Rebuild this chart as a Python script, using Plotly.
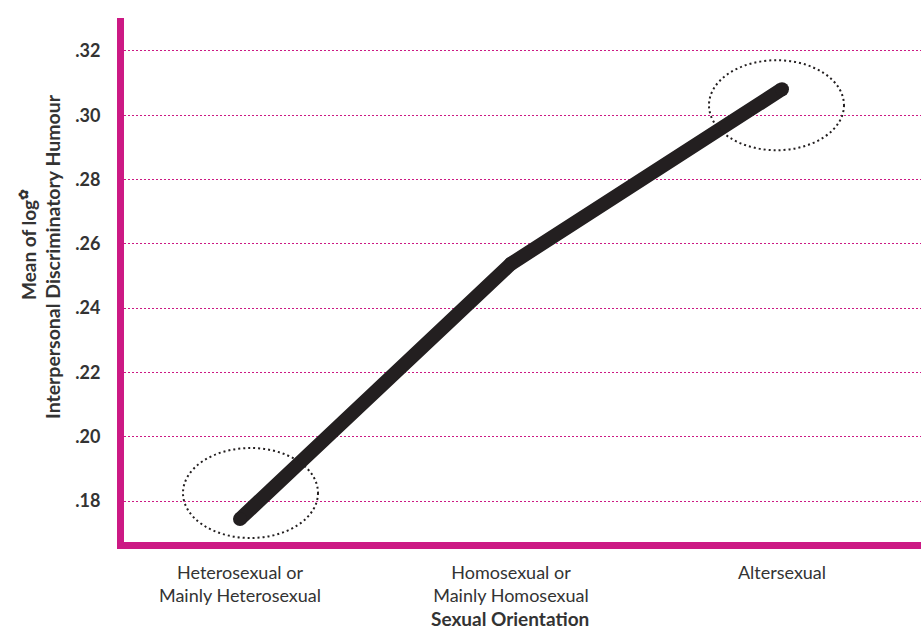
import plotly.graph_objects as go

categories = ["Heterosexual or<br>Mainly Heterosexual", "Homosexual or<br>Mainly Homosexual", "Altersexual"]
means = [0.1744, 0.2538, 0.3081]
ytick_vals = [0.18, 0.20, 0.22, 0.24, 0.26, 0.28, 0.30, 0.32]
ytick_text = [".18", ".20", ".22", ".24", ".26", ".28", ".30", ".32"]
highlighted = [0, 2]

MAG = "#cc1984"
INK = "#231f20"
TXT = "#333333"
FONT = "Lato"

W, H = 921, 630
ML, MT, MB = 124, 18, 630 - 542
PW, PH = W - ML, H - MT - MB  # plot area size
PL, PB = ML, MT + PH  # plot left / bottom in page pixels

def px_x(p):
    return (p - PL) / PW

def px_y(p):
    return (PB - p) / PH

x_idx = list(range(len(categories)))

fig = go.Figure()
fig.add_trace(go.Scatter(
    x=x_idx, y=means, mode="lines+markers",
    line=dict(color=INK, width=14),
    marker=dict(color=INK, size=14, line=dict(width=0)),
    hoverinfo="skip", showlegend=False,
))

# dotted ellipses around first and last points (pixel-sized, anchored at data)
ell = {0: (-57, 78, -19, 71), 2: (-73, 62, -61, 29)}
for i in highlighted:
    x0, x1, y0, y1 = ell[i]
    fig.add_shape(type="circle", xref="x", yref="y",
                  xsizemode="pixel", ysizemode="pixel",
                  xanchor=x_idx[i], yanchor=means[i],
                  x0=x0, x1=x1, y0=y0, y1=y1,
                  line=dict(color=INK, width=2, dash="2px,3px"))

fig.update_layout(
    width=W, height=H,
    margin=dict(l=ML, r=0, t=MT, b=MB, pad=0),
    paper_bgcolor="white", plot_bgcolor="white",
    font=dict(family=FONT, color=TXT),
    xaxis=dict(
        range=[-0.428, 2.513],
        tickvals=x_idx, ticktext=categories,
        tickfont=dict(size=18, family=FONT, color=TXT),
        showgrid=False, zeroline=False,
        showline=True, linecolor=MAG, linewidth=7,
        ticks="", ticklabelstandoff=8,
    ),
    yaxis=dict(
        range=[0.16725, 0.33025],
        tickvals=ytick_vals, ticktext=ytick_text,
        tickfont=dict(size=18, family=FONT, color=TXT, weight="bold"),
        showgrid=True, gridcolor=MAG, gridwidth=1, griddash="2px,2px",
        zeroline=False,
        showline=True, linecolor=MAG, linewidth=7,
        ticks="", ticklabelstandoff=13,
    ),
    annotations=[
        dict(text="<b>Mean of log<sup>✿</sup></b>", xref="paper", yref="paper",
             x=px_x(28), y=px_y(245), textangle=-90,
             showarrow=False, font=dict(size=19, family=FONT, color=TXT),
             xanchor="center", yanchor="middle"),
        dict(text="<b>Interpersonal Discriminatory Humour</b>", xref="paper", yref="paper",
             x=px_x(52), y=px_y(257), textangle=-90,
             showarrow=False, font=dict(size=19.5, family=FONT, color=TXT),
             xanchor="center", yanchor="middle"),
        dict(text="<b>Sexual Orientation</b>", xref="paper", yref="paper",
             x=px_x(510), y=px_y(630), borderpad=0, borderwidth=0,
             showarrow=False, font=dict(size=19, family=FONT, color=TXT),
             xanchor="center", yanchor="bottom"),
    ],
)

fig.write_html(
    "out.html",
    config={"displayModeBar": False},
    post_script="document.body.style.margin='0';document.body.style.overflow='hidden';",
)
